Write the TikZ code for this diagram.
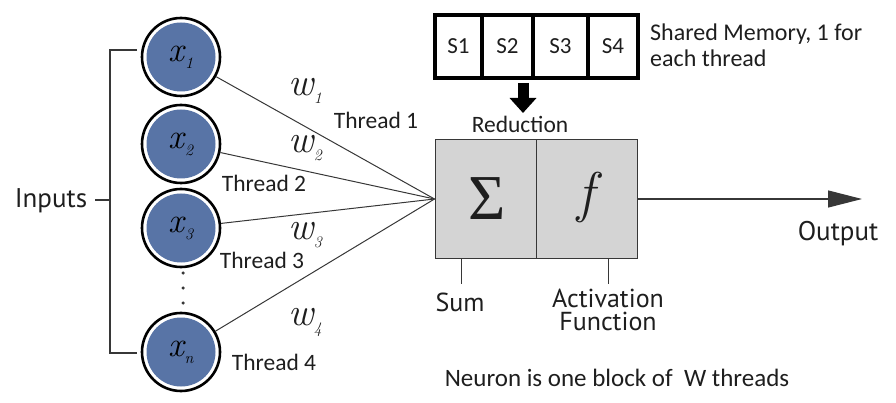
\documentclass[tikz,border=0pt]{standalone}
\usepackage{fontspec}
\newfontfamily\clb{Carlito}
\newfontfamily\myr{PT Sans}
\newfontfamily\tms{Liberation Serif}
\usetikzlibrary{arrows.meta}
\definecolor{nblue}{RGB}{88,116,166}
\definecolor{boxgray}{RGB}{212,212,212}
\definecolor{lin}{RGB}{55,55,55}
\definecolor{txt}{RGB}{30,30,30}
\newcommand\xlab[1]{{\itshape\fontsize{35}{35}\selectfont x\kern0.5pt\raisebox{-7pt}{\fontsize{16}{16}\selectfont #1}}}
\newcommand\wlab[1]{{\itshape\fontsize{39}{39}\selectfont w\kern0.5pt\raisebox{-8pt}{\fontsize{16}{16}\selectfont #1}}}
\begin{document}
\begin{tikzpicture}[x=1pt,y=-1pt,
  inp/.style={circle, minimum size=78pt, inner sep=0pt, draw=black, line width=2.6pt, fill=white,
    path picture={\fill[nblue] (path picture bounding box.center) circle (34.5pt);}},
  conn/.style={draw=lin, line width=1pt},
  thr/.style={text=txt, font=\clb\fontsize{23.5}{25}\selectfont, inner sep=0pt},
  myrlab/.style={text=txt, font=\myr\fontsize{26}{23}\selectfont, inner sep=0pt, align=center},
  wl/.style={text=txt, inner sep=0pt, anchor=base},
  half/.style={rectangle, draw=lin, line width=1pt, fill=boxgray, minimum width=101pt, minimum height=118pt, inner sep=0pt},
  cell/.style={rectangle, draw=black, line width=4.2pt, minimum height=63pt, inner sep=0pt, font=\clb\fontsize{23}{25}\selectfont, text=txt},
  dotc/.style={circle, fill=lin, inner sep=0pt, minimum size=3.5pt}
]
\path[use as bounding box] (0,0) rectangle (896,403);

% input neurons
\node[inp] (x1) at (181,57) {\xlab{1}};
\node[inp] (x2) at (181,144) {\xlab{2}};
\node[inp] (x3) at (181,228) {\xlab{3}};
\node[inp] (xn) at (181,352) {\xlab{n}};
\node[dotc] (d1) at (183,273) {};
\node[dotc] (d2) at (183,288) {};
\node[dotc] (d3) at (183,303) {};

% inputs bracket
\node[myrlab, font=\myr\fontsize{27}{27}\selectfont] (inputs) at (51,201) {Inputs};
\coordinate (bt) at (110,50);
\coordinate (bb) at (110,353);
\coordinate (bm) at (110,200);
\coordinate (bt2) at (137,50);
\coordinate (bb2) at (137,353);
\coordinate (bi) at (95,200);
\draw[conn, line width=1.2pt] (bt2) -- (bt) -- (bb) -- (bb2);
\draw[conn, line width=1.2pt] (bi) -- (bm);

% neuron body
\node[half] (sumb) at (485.5,199) {};
\node[half] (actb) at (586.5,199) {};
\node[text=txt, inner sep=0pt, font=\tms\fontsize{64}{64}\selectfont] (sig) at (487,199) {Σ};
\node[text=txt, inner sep=0pt, font=\itshape\fontsize{56}{56}\selectfont] (fl) at (586,198) {f};
\coordinate (conv) at (sumb.west);

% connections
\draw[conn] (x1) -- (conv);
\draw[conn] (x2) -- (conv);
\draw[conn] (x3) -- (conv);
\draw[conn] (xn) -- (conv);

% weights
\node[wl] (w1) at (305,96) {\wlab{1}};
\node[wl] (w2) at (305,153) {\wlab{2}};
\node[wl] (w3) at (305,240) {\wlab{3}};
\node[wl] (w4) at (305,325) {\wlab{4}};

% thread labels
\node[thr] (t1) at (376,120) {Thread 1};
\node[thr] (t2) at (264,183) {Thread 2};
\node[thr] (t3) at (262,260) {Thread 3};
\node[thr] (t4) at (274,362) {Thread 4};

% output
\coordinate (outend) at (862,199);
\draw[conn, line width=1.2pt, -{Triangle[length=34pt,width=17pt]}] (actb.east) -- (outend);
\node[myrlab, font=\myr\fontsize{27}{27}\selectfont] (outl) at (838,234) {Output};

% sum / activation ticks
\coordinate (st1) at (461,258);
\coordinate (st2) at (461,284);
\coordinate (at1) at (608,258);
\coordinate (at2) at (608,284);
\draw[conn] (st1) -- (st2);
\draw[conn] (at1) -- (at2);
\node[myrlab] (suml) at (460,302) {Sum};
\node[myrlab, anchor=north] (actl) at (608,289) {Activation\\Function};

% shared memory
\node[cell, minimum width=47pt] (s1) at (458.5,46.5) {S1};
\node[cell, minimum width=51pt] (s2) at (507.5,46.5) {S2};
\node[cell, minimum width=55pt] (s3) at (560.5,46.5) {S3};
\node[cell, minimum width=50pt] (s4) at (613,46.5) {S4};
\node[thr, anchor=west, align=left, font=\clb\fontsize{24}{26}\selectfont] (shm) at (650,45) {Shared Memory, 1 for\\each thread};

% reduction arrow
\coordinate (ra) at (523,83);
\coordinate (rb) at (523,113);
\draw[line width=11pt, black, -{Triangle[length=15pt,width=26pt]}] (ra) -- (rb);
\node[thr] (red) at (520,124) {Reduction};

% caption
\node[thr, font=\clb\fontsize{25}{25}\selectfont] (cap) at (617,378) {Neuron is one block of\ \ W threads};
\end{tikzpicture}
\end{document}
